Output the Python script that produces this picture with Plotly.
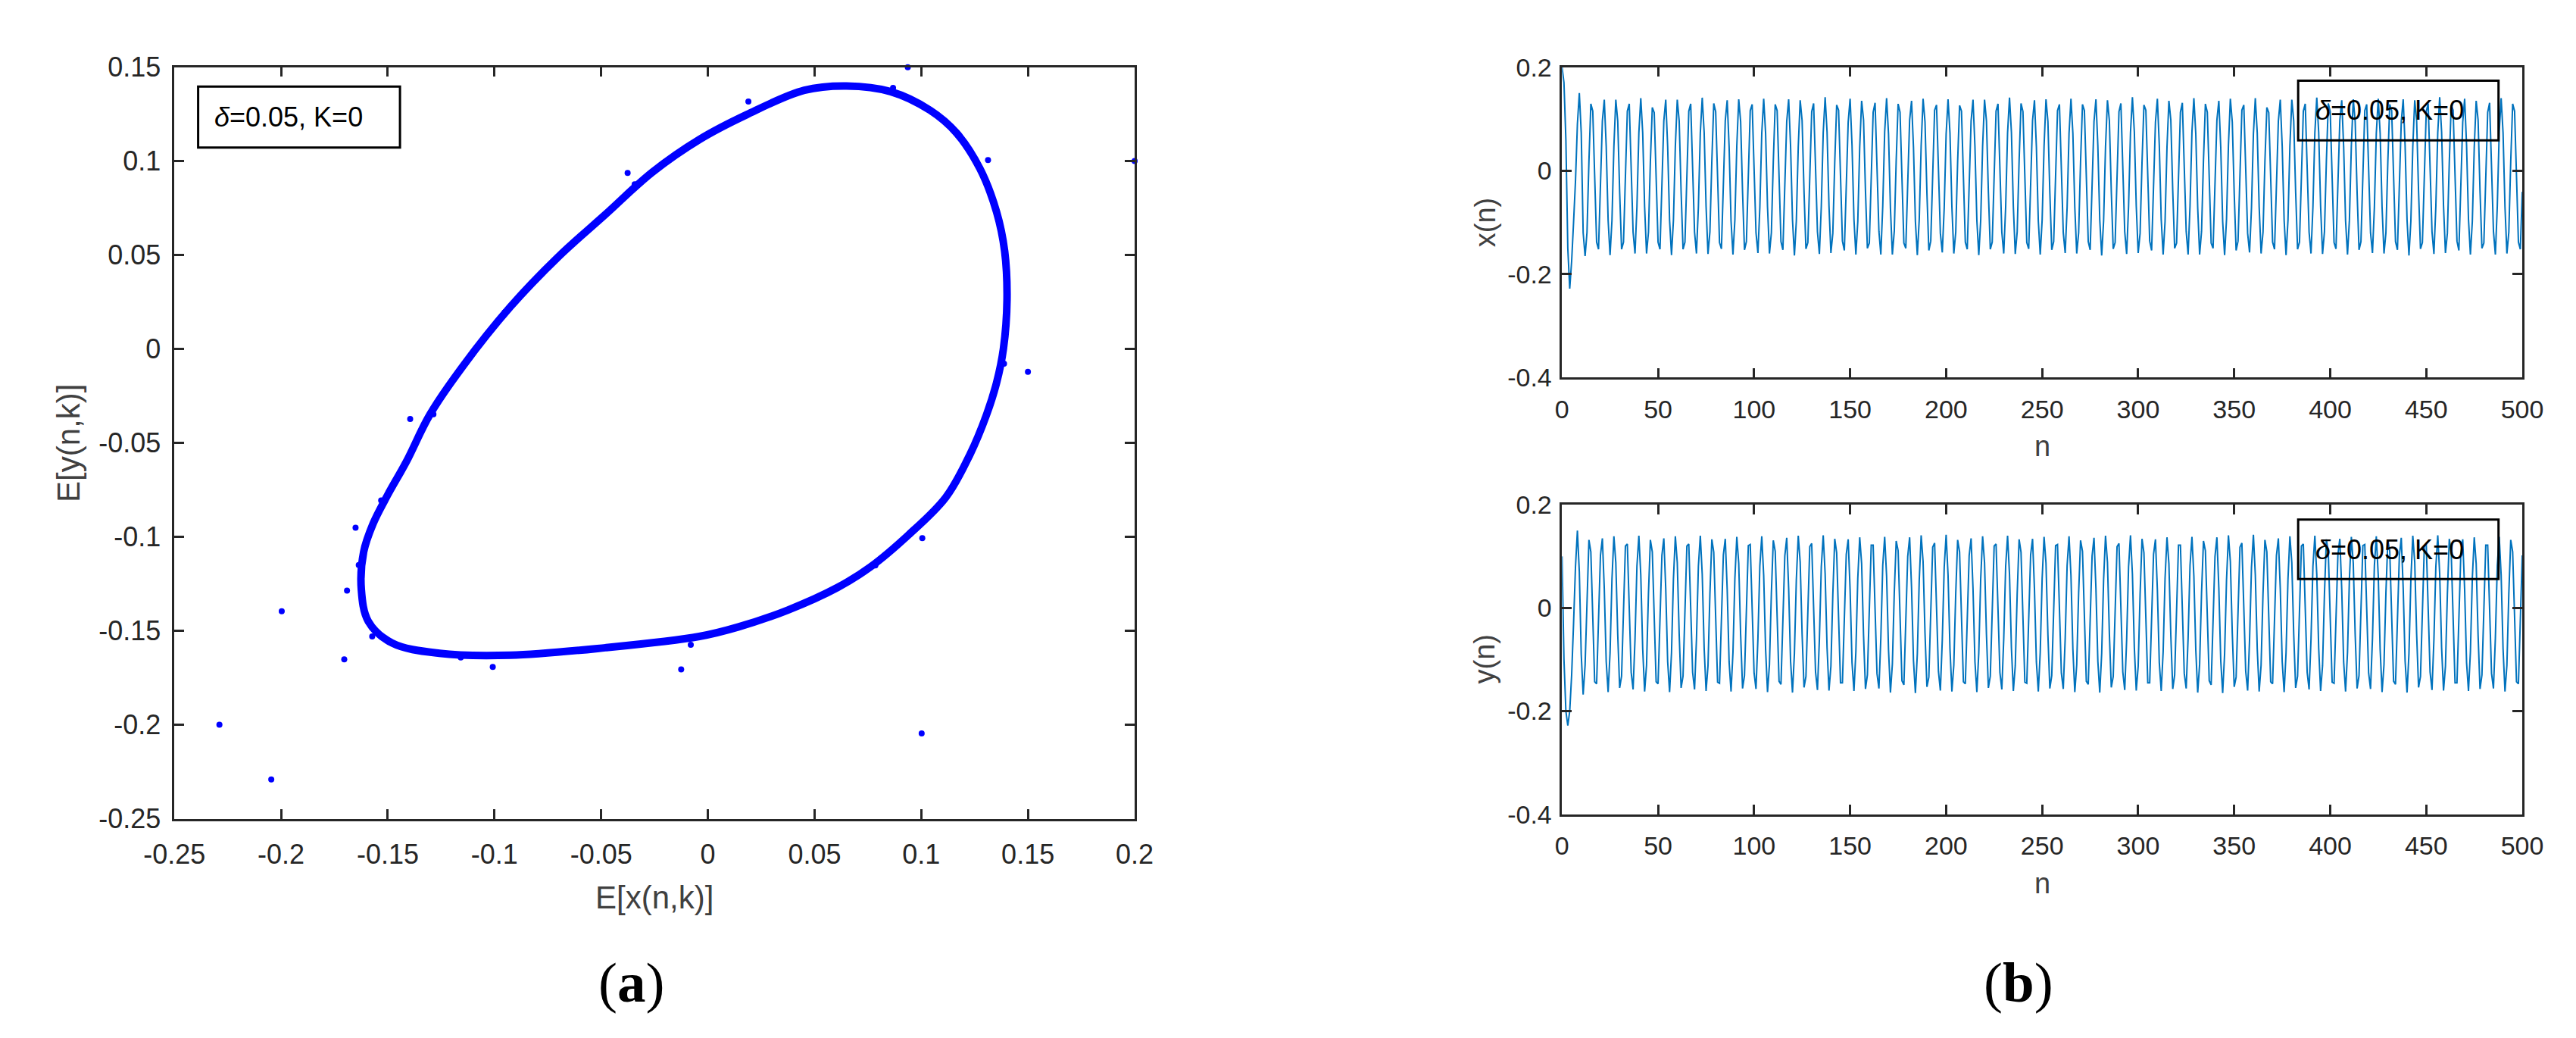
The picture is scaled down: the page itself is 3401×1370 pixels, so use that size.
import plotly.graph_objects as go

# ---- panel (a): mean orbit E[x], E[y] ----
# closed limit cycle, traced clockwise from the top
LOOP_X = [0.065, 0.0856, 0.1042, 0.1165, 0.1275, 0.1353, 0.1391, 0.1402, 0.1385, 0.1353,
          0.1306, 0.1229, 0.1115, 0.094, 0.0762, 0.0607, 0.0374, 0.0141, -0.004, -0.048,
          -0.0925, -0.1258, -0.148, -0.1591, -0.1624, -0.1613, -0.1569, -0.1502, -0.1413, -0.1303,
          -0.1147, -0.0925, -0.0704, -0.0482, -0.026, -0.0038, 0.0182, 0.0452, 0.065]
LOOP_Y = [0.140, 0.137, 0.127, 0.115, 0.096, 0.073, 0.052, 0.026, 0.000, -0.018,
          -0.035, -0.056, -0.079, -0.099, -0.116, -0.127, -0.139, -0.148, -0.153, -0.159,
          -0.163, -0.162, -0.1565, -0.145, -0.128, -0.108, -0.093, -0.078, -0.060, -0.035,
          -0.009, 0.0225, 0.0487, 0.0714, 0.0941, 0.1116, 0.1247, 0.1377, 0.140]

# transient points off the cycle
DOT_X = [-0.0376, -0.0343, 0.019, -0.0952, -0.1395, -0.1286, -0.1651, -0.1531, -0.1636, -0.1691,
         -0.1997, -0.1573, -0.1704, -0.1158, -0.1008, -0.0125, -0.008, -0.2289, -0.2046, 0.0937,
         0.0868, 0.1313, 0.2, 0.1388, 0.15, 0.1005, 0.1002, 0.0785]
DOT_Y = [0.0937, 0.0876, 0.1317, 0.0195, -0.0373, -0.0347, -0.0951, -0.0806, -0.115, -0.1286,
         -0.1396, -0.153, -0.1652, -0.1642, -0.1692, -0.1705, -0.1574, -0.2, -0.2291, 0.15,
         0.139, 0.1006, 0.1, -0.0078, -0.0122, -0.1007, -0.2046, -0.1152]

A_XTICKS = [-0.25, -0.2, -0.15, -0.1, -0.05, 0, 0.05, 0.1, 0.15, 0.2]
A_XTEXT = ["-0.25", "-0.2", "-0.15", "-0.1", "-0.05", "0", "0.05", "0.1", "0.15", "0.2"]
A_YTICKS = [-0.25, -0.2, -0.15, -0.1, -0.05, 0, 0.05, 0.1, 0.15]
A_YTEXT = ["-0.25", "-0.2", "-0.15", "-0.1", "-0.05", "0", "0.05", "0.1", "0.15"]

# ---- panel (b): time series x(n), y(n), n = 0..500 ----
N = list(range(501))

XN = [
    0.200, 0.170, 0.060, -0.150, -0.228, -0.175, -0.100, -0.020, 0.090, 0.150, 0.073, -0.120, -0.165,
    -0.119, 0.018, 0.129, 0.115, -0.012, -0.138, -0.152, -0.041, 0.096, 0.137, 0.047, -0.096, -0.163, -0.096, 0.047, 0.137, 0.096, -0.041, -0.152, -0.138, -0.012, 0.115, 0.129, 0.018, -0.119, -0.160, -0.070, 0.073,
    0.140, 0.073, -0.070, -0.160, -0.119, 0.018, 0.122, 0.112, -0.012, -0.138, -0.152, -0.041, 0.096, 0.137, 0.047, -0.096, -0.163, -0.096, 0.047, 0.137, 0.096, -0.041, -0.152, -0.138, -0.012, 0.115, 0.129, 0.018, -0.119, -0.160, -0.070, 0.073,
    0.141, 0.074, -0.069, -0.161, -0.118, 0.019, 0.130, 0.114, -0.013, -0.139, -0.151, -0.040, 0.097, 0.136, 0.046, -0.097, -0.162, -0.095, 0.048, 0.138, 0.095, -0.042, -0.153, -0.137, -0.011, 0.116, 0.128, 0.017, -0.120, -0.159, -0.071, 0.072,
    0.139, 0.072, -0.071, -0.160, -0.120, 0.017, 0.128, 0.116, -0.011, -0.137, -0.153, -0.042, 0.095, 0.138, 0.048, -0.095, -0.164, -0.097, 0.046, 0.136, 0.097, -0.040, -0.151, -0.139, -0.013, 0.114, 0.130, 0.019, -0.118, -0.161, -0.069, 0.074,
    0.142, 0.075, -0.068, -0.159, -0.121, 0.016, 0.127, 0.117, -0.010, -0.136, -0.154, -0.043, 0.094, 0.139, 0.049, -0.094, -0.162, -0.098, 0.045, 0.135, 0.098, -0.039, -0.150, -0.140, -0.014, 0.113, 0.131, 0.020, -0.117, -0.162, -0.068, 0.075,
    0.140, 0.071, -0.072, -0.162, -0.117, 0.020, 0.129, 0.113, -0.014, -0.140, -0.150, -0.039, 0.098, 0.135, 0.045, -0.098, -0.163, -0.094, 0.049, 0.139, 0.094, -0.043, -0.154, -0.136, -0.010, 0.117, 0.127, 0.016, -0.121, -0.158, -0.072, 0.071,
    0.138, 0.073, -0.070, -0.160, -0.119, 0.018, 0.126, 0.115, -0.012, -0.138, -0.152, -0.041, 0.096, 0.137, 0.047, -0.096, -0.163, -0.096, 0.047, 0.137, 0.096, -0.041, -0.152, -0.138, -0.012, 0.115, 0.129, 0.018, -0.119, -0.160, -0.070, 0.073,
    0.141, 0.074, -0.069, -0.161, -0.118, 0.019, 0.130, 0.114, -0.013, -0.139, -0.151, -0.040, 0.097, 0.136, 0.046, -0.097, -0.162, -0.095, 0.048, 0.138, 0.095, -0.042, -0.153, -0.137, -0.011, 0.116, 0.128, 0.017, -0.120, -0.159, -0.071, 0.072,
    0.139, 0.072, -0.071, -0.160, -0.120, 0.017, 0.128, 0.116, -0.011, -0.137, -0.153, -0.042, 0.095, 0.138, 0.048, -0.095, -0.164, -0.097, 0.046, 0.136, 0.097, -0.040, -0.151, -0.139, -0.013, 0.114, 0.130, 0.019, -0.118, -0.161, -0.069, 0.074,
    0.142, 0.075, -0.068, -0.159, -0.121, 0.016, 0.127, 0.117, -0.010, -0.136, -0.154, -0.043, 0.094, 0.139, 0.049, -0.094, -0.162, -0.098, 0.045, 0.135, 0.098, -0.039, -0.150, -0.140, -0.014, 0.113, 0.131, 0.020, -0.117, -0.162, -0.068, 0.075,
    0.140, 0.071, -0.072, -0.162, -0.117, 0.020, 0.129, 0.113, -0.014, -0.140, -0.150, -0.039, 0.098, 0.135, 0.045, -0.098, -0.163, -0.094, 0.049, 0.139, 0.094, -0.043, -0.154, -0.136, -0.010, 0.117, 0.127, 0.016, -0.121, -0.158, -0.072, 0.071,
    0.140, 0.073, -0.070, -0.160, -0.119, 0.018, 0.122, 0.112, -0.012, -0.138, -0.152, -0.041, 0.096, 0.137, 0.047, -0.096, -0.163, -0.096, 0.047, 0.137, 0.096, -0.041, -0.152, -0.138, -0.012, 0.115, 0.129, 0.018, -0.119, -0.160, -0.070, 0.073,
    0.141, 0.074, -0.069, -0.161, -0.118, 0.019, 0.130, 0.114, -0.013, -0.139, -0.151, -0.040, 0.097, 0.136, 0.046, -0.097, -0.162, -0.095, 0.048, 0.138, 0.095, -0.042, -0.153, -0.137, -0.011, 0.116, 0.128, 0.017, -0.120, -0.159, -0.071, 0.072,
    0.139, 0.072, -0.071, -0.160, -0.120, 0.017, 0.128, 0.116, -0.011, -0.137, -0.153, -0.042, 0.095, 0.138, 0.048, -0.095, -0.164, -0.097, 0.046, 0.136, 0.097, -0.040, -0.151, -0.139, -0.013, 0.114, 0.130, 0.019, -0.118, -0.161, -0.069, 0.074,
    0.142, 0.075, -0.068, -0.159, -0.121, 0.016, 0.127, 0.117, -0.010, -0.136, -0.154, -0.043, 0.094, 0.139, 0.049, -0.094, -0.162, -0.098, 0.045, 0.135, 0.098, -0.039, -0.150, -0.140, -0.014, 0.113, 0.131, 0.020, -0.117, -0.162, -0.068, 0.075,
    0.140, 0.073, -0.070, -0.160, -0.119, 0.018, 0.129, 0.115, -0.012, -0.138, -0.152, -0.041,
]

YN = [
    0.100, -0.100, -0.200, -0.228, -0.200, -0.130, -0.030, 0.080, 0.150, 0.070, -0.090, -0.168,
    -0.111, 0.028, 0.132, 0.109, -0.021, -0.143, -0.147, -0.031, 0.102, 0.135, 0.037, -0.104, -0.163, -0.087, 0.056, 0.139, 0.088, -0.051, -0.155, -0.132, -0.002, 0.120, 0.124, 0.008, -0.125, -0.158, -0.060, 0.081, 0.140,
    0.064, -0.079, -0.162, -0.111, 0.028, 0.132, 0.109, -0.021, -0.143, -0.147, -0.031, 0.102, 0.135, 0.037, -0.104, -0.163, -0.087, 0.056, 0.139, 0.088, -0.051, -0.155, -0.132, -0.002, 0.120, 0.124, 0.008, -0.125, -0.158, -0.060, 0.081, 0.140,
    0.065, -0.078, -0.161, -0.112, 0.027, 0.133, 0.108, -0.022, -0.144, -0.146, -0.030, 0.103, 0.134, 0.036, -0.105, -0.162, -0.086, 0.057, 0.138, 0.087, -0.052, -0.156, -0.131, -0.001, 0.121, 0.123, 0.007, -0.126, -0.157, -0.059, 0.082, 0.139,
    0.063, -0.080, -0.163, -0.110, 0.029, 0.131, 0.110, -0.020, -0.142, -0.148, -0.032, 0.101, 0.136, 0.038, -0.103, -0.164, -0.088, 0.055, 0.140, 0.089, -0.050, -0.154, -0.133, -0.003, 0.119, 0.125, 0.009, -0.124, -0.159, -0.061, 0.080, 0.141,
    0.066, -0.077, -0.160, -0.113, 0.026, 0.134, 0.107, -0.023, -0.145, -0.145, -0.029, 0.104, 0.133, 0.035, -0.106, -0.161, -0.085, 0.058, 0.137, 0.086, -0.053, -0.157, -0.130, 0.000, 0.122, 0.122, 0.006, -0.127, -0.156, -0.058, 0.083, 0.138,
    0.062, -0.081, -0.164, -0.109, 0.030, 0.130, 0.111, -0.019, -0.141, -0.149, -0.033, 0.100, 0.137, 0.039, -0.102, -0.165, -0.089, 0.054, 0.141, 0.090, -0.049, -0.153, -0.134, -0.004, 0.118, 0.126, 0.010, -0.123, -0.160, -0.062, 0.079, 0.142,
    0.064, -0.079, -0.162, -0.111, 0.028, 0.132, 0.109, -0.021, -0.143, -0.147, -0.031, 0.102, 0.135, 0.037, -0.104, -0.163, -0.087, 0.056, 0.139, 0.088, -0.051, -0.155, -0.132, -0.002, 0.120, 0.124, 0.008, -0.125, -0.158, -0.060, 0.081, 0.140,
    0.065, -0.078, -0.161, -0.112, 0.027, 0.133, 0.108, -0.022, -0.144, -0.146, -0.030, 0.103, 0.134, 0.036, -0.105, -0.162, -0.086, 0.057, 0.138, 0.087, -0.052, -0.156, -0.131, -0.001, 0.121, 0.123, 0.007, -0.126, -0.157, -0.059, 0.082, 0.139,
    0.063, -0.080, -0.163, -0.110, 0.029, 0.131, 0.110, -0.020, -0.142, -0.148, -0.032, 0.101, 0.136, 0.038, -0.103, -0.164, -0.088, 0.055, 0.140, 0.089, -0.050, -0.154, -0.133, -0.003, 0.119, 0.125, 0.009, -0.124, -0.159, -0.061, 0.080, 0.141,
    0.066, -0.077, -0.160, -0.113, 0.026, 0.134, 0.107, -0.023, -0.145, -0.145, -0.029, 0.104, 0.133, 0.035, -0.106, -0.161, -0.085, 0.058, 0.137, 0.086, -0.053, -0.157, -0.130, 0.000, 0.122, 0.122, 0.006, -0.127, -0.156, -0.058, 0.083, 0.138,
    0.062, -0.081, -0.164, -0.109, 0.030, 0.130, 0.111, -0.019, -0.141, -0.149, -0.033, 0.100, 0.137, 0.039, -0.102, -0.165, -0.089, 0.054, 0.141, 0.090, -0.049, -0.153, -0.134, -0.004, 0.118, 0.126, 0.010, -0.123, -0.160, -0.062, 0.079, 0.142,
    0.064, -0.079, -0.162, -0.111, 0.028, 0.132, 0.109, -0.021, -0.143, -0.147, -0.031, 0.102, 0.135, 0.037, -0.104, -0.163, -0.087, 0.056, 0.139, 0.088, -0.051, -0.155, -0.132, -0.002, 0.120, 0.124, 0.008, -0.125, -0.158, -0.060, 0.081, 0.140,
    0.065, -0.078, -0.161, -0.112, 0.027, 0.133, 0.108, -0.022, -0.144, -0.146, -0.030, 0.103, 0.134, 0.036, -0.105, -0.162, -0.086, 0.057, 0.138, 0.087, -0.052, -0.156, -0.131, -0.001, 0.121, 0.123, 0.007, -0.126, -0.157, -0.059, 0.082, 0.139,
    0.063, -0.080, -0.163, -0.110, 0.029, 0.131, 0.110, -0.020, -0.142, -0.148, -0.032, 0.101, 0.136, 0.038, -0.103, -0.164, -0.088, 0.055, 0.140, 0.089, -0.050, -0.154, -0.133, -0.003, 0.119, 0.125, 0.009, -0.124, -0.159, -0.061, 0.080, 0.141,
    0.066, -0.077, -0.160, -0.113, 0.026, 0.134, 0.107, -0.023, -0.145, -0.145, -0.029, 0.104, 0.133, 0.035, -0.106, -0.161, -0.085, 0.058, 0.137, 0.086, -0.053, -0.157, -0.130, 0.000, 0.122, 0.122, 0.006, -0.127, -0.156, -0.058, 0.083, 0.138,
    0.064, -0.079, -0.162, -0.111, 0.028, 0.132, 0.109, -0.021, -0.143, -0.147, -0.031, 0.102,
]

B_XTICKS = [0, 50, 100, 150, 200, 250, 300, 350, 400, 450, 500]
B_YTICKS = [-0.4, -0.2, 0, 0.2]
B_YTEXT = ["-0.4", "-0.2", "0", "0.2"]

LEGEND_TEXT = "<i>δ</i>=0.05, K=0"

assert len(XN) == len(N) and len(YN) == len(N), (len(XN), len(YN))

# ---- layout helpers (pixel -> paper) ----
W, H = 3401, 1370


def px(x):
    return x / W


def py(y):
    return 1 - y / H


SANS = "Liberation Sans, Arial, sans-serif"
SERIF = "Liberation Serif, Times New Roman, serif"
INK = "#262626"
LABEL = "#404040"


def axis_style(size):
    return dict(
        showline=True, linecolor=INK, linewidth=2.5, mirror="allticks",
        ticks="inside", ticklen=13, tickwidth=2.5, tickcolor=INK,
        showgrid=False, zeroline=False,
        tickfont=dict(family=SANS, size=size, color=INK),
    )


fig = go.Figure()

# panel (a)
fig.add_trace(go.Scatter(
    x=LOOP_X, y=LOOP_Y, mode="lines", line=dict(color="#0000FF", width=10, shape="spline"),
    xaxis="x", yaxis="y", showlegend=False,
))
fig.add_trace(go.Scatter(
    x=DOT_X, y=DOT_Y, mode="markers", marker=dict(color="#0000FF", size=8),
    xaxis="x", yaxis="y", showlegend=False, cliponaxis=False,
))

# panel (b)
fig.add_trace(go.Scatter(
    x=N, y=XN, mode="lines", line=dict(color="#0072BD", width=2),
    xaxis="x2", yaxis="y2", showlegend=False,
))
fig.add_trace(go.Scatter(
    x=N, y=YN, mode="lines", line=dict(color="#0072BD", width=2),
    xaxis="x3", yaxis="y3", showlegend=False,
))

fig.update_layout(
    width=W, height=H,
    margin=dict(l=0, r=0, t=0, b=0),
    paper_bgcolor="white", plot_bgcolor="white",
    xaxis=dict(domain=[px(185), px(1479)], range=[-0.25, 0.2], anchor="y",
               tickvals=A_XTICKS, ticktext=A_XTEXT, ticklabelstandoff=14, **axis_style(36)),
    yaxis=dict(domain=[py(1085), py(62.5)], range=[-0.25, 0.15], anchor="x",
               tickvals=A_YTICKS, ticktext=A_YTEXT, ticklabelstandoff=8, **axis_style(36)),
    xaxis2=dict(domain=[px(2055), px(3349)], range=[0, 500], anchor="y2",
                tickvals=B_XTICKS, ticklabelstandoff=10, **axis_style(34)),
    yaxis2=dict(domain=[py(485), py(62.5)], range=[-0.4, 0.2], anchor="x2",
                tickvals=B_YTICKS, ticktext=B_YTEXT, ticklabelstandoff=4, **axis_style(34)),
    xaxis3=dict(domain=[px(2055), px(3349)], range=[0, 500], anchor="y3",
                tickvals=B_XTICKS, ticklabelstandoff=10, **axis_style(34)),
    yaxis3=dict(domain=[py(1079), py(658)], range=[-0.4, 0.2], anchor="x3",
                tickvals=B_YTICKS, ticktext=B_YTEXT, ticklabelstandoff=4, **axis_style(34)),
)

annotations = []


def label(text, x, y, size, color=LABEL, angle=0, family=SANS, xanchor="center"):
    annotations.append(dict(
        text=text, x=px(x), y=py(y), xref="paper", yref="paper", showarrow=False,
        textangle=angle, xanchor=xanchor, yanchor="middle",
        font=dict(family=family, size=size, color=color),
    ))


# axis titles
label("E[y(n,k)]", 43, 574, 42, angle=-90)
label("E[x(n,k)]", 832, 1192, 42)
label("x(n)", 1951, 274, 38, angle=-90)
label("y(n)", 1951, 868, 38, angle=-90)
label("n", 2702, 578, 38)
label("n", 2702, 1173, 38)

# panel tags
label("(<b>a</b>)", 801, 1308, 75, color="black", family=SERIF)
label("(<b>b</b>)", 2670, 1308, 75, color="black", family=SERIF)

# legend boxes
label(LEGEND_TEXT, 237, 130, 36, color="black", xanchor="left")
label(LEGEND_TEXT, 3068, 121, 36, color="black", xanchor="left")
label(LEGEND_TEXT, 3068, 719, 36, color="black", xanchor="left")

shapes = []
for x0, y0, x1, y1 in [(217, 89, 489, 172), (3047, 81, 3317, 162), (3047, 678, 3317, 759)]:
    shapes.append(dict(
        type="rect", xref="paper", yref="paper",
        x0=px(x0), x1=px(x1), y0=py(y1), y1=py(y0),
        line=dict(color="black", width=3), fillcolor="rgba(0,0,0,0)",
    ))

fig.update_layout(annotations=annotations, shapes=shapes)

fig.write_html("out.html")
